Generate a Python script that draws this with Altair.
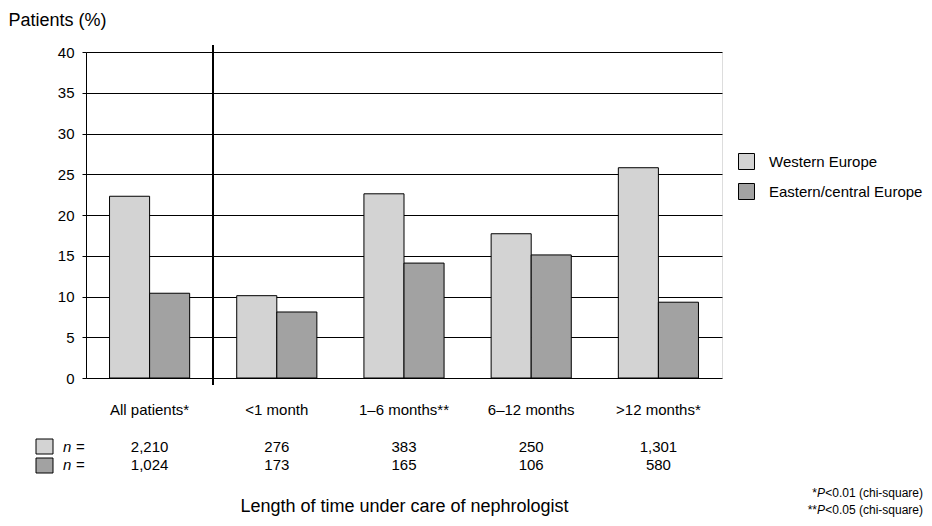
import altair as alt
import pandas as pd

categories = ["All patients*", "<1 month", "1–6 months**", "6–12 months", ">12 months*"]
series = ["Western Europe", "Eastern/central Europe"]
western = [22.3, 10.1, 22.6, 17.7, 25.8]
eastern = [10.4, 8.1, 14.1, 15.1, 9.3]
n_western = ["2,210", "276", "383", "250", "1,301"]
n_eastern = ["1,024", "173", "165", "106", "580"]
colors = ["#d3d3d3", "#a2a2a2"]
y_ticks = [0, 5, 10, 15, 20, 25, 30, 35, 40]

FONT = "Liberation Sans"

rows = []
for i, c in enumerate(categories):
    rows.append({"cat": c, "series": series[0], "value": western[i]})
    rows.append({"cat": c, "series": series[1], "value": eastern[i]})
df = pd.DataFrame(rows)
ndf = pd.DataFrame({"cat": categories, "nw": n_western, "ne": n_eastern})
one = pd.DataFrame({"a": [0]})

xdef = alt.X(
    "cat:N", sort=categories,
    scale=alt.Scale(domain=categories, paddingInner=0.37, paddingOuter=0.185),
    axis=alt.Axis(
        title="Length of time under care of nephrologist",
        labelAngle=0, ticks=False, domain=False, labelPadding=24,
        labelFont=FONT, labelFontSize=15, labelColor="black",
        titleFont=FONT, titleFontSize=18, titleFontWeight="normal", titleColor="black",
        titleY=128, titleBaseline="middle",
    ),
)

bars = alt.Chart(df).mark_bar(stroke="black", strokeWidth=1).encode(
    x=xdef,
    xOffset=alt.XOffset("series:N", sort=series, scale=alt.Scale(domain=series, paddingInner=0)),
    y=alt.Y(
        "value:Q", scale=alt.Scale(domain=[0, 40], nice=False),
        axis=alt.Axis(
            values=y_ticks, title="Patients (%)", titleAngle=0, titleX=-78, titleY=-32,
            titleAlign="left", titleBaseline="middle", titleFont=FONT, titleFontSize=18,
            titleFontWeight="normal", titleColor="black",
            grid=True, gridColor="black", gridOpacity=1, gridWidth=1,
            tickSize=4, tickColor="black", domain=True, domainColor="black",
            labelFont=FONT, labelFontSize=15, labelColor="black", labelPadding=8,
        ),
    ),
    color=alt.Color(
        "series:N", sort=series, scale=alt.Scale(domain=series, range=colors),
        legend=alt.Legend(
            title=None, orient="none", legendX=652, legendY=101, symbolType="square",
            symbolSize=256, symbolStrokeColor="black", symbolStrokeWidth=1,
            symbolOpacity=1, labelFont=FONT, labelFontSize=15, labelColor="black",
            labelOffset=14, rowPadding=9, padding=0,
        ),
    ),
)

sep = alt.Chart(one).mark_rule(color="black", strokeWidth=2).encode(
    x=alt.value(127), y=alt.value(-7), y2=alt.value(333)
)

n_row1 = alt.Chart(ndf).mark_text(font=FONT, fontSize=15, color="black").encode(
    x=xdef, y=alt.value(395), text="nw:N"
)
n_row2 = alt.Chart(ndf).mark_text(font=FONT, fontSize=15, color="black").encode(
    x=xdef, y=alt.value(413), text="ne:N"
)

sw1 = alt.Chart(one).mark_rect(fill=colors[0], stroke="black", strokeWidth=1).encode(
    x=alt.value(-50), x2=alt.value(-33), y=alt.value(387), y2=alt.value(402)
)
sw2 = alt.Chart(one).mark_rect(fill=colors[1], stroke="black", strokeWidth=1).encode(
    x=alt.value(-50), x2=alt.value(-33), y=alt.value(406), y2=alt.value(421)
)

def txt(s, x, y, align="left", style="normal", size=15):
    return alt.Chart(one).mark_text(
        text=s, font=FONT, fontSize=size, fontStyle=style, align=align,
        baseline="middle", color="black"
    ).encode(x=alt.value(x), y=alt.value(y))

labels = [
    txt("n", -23, 395, style="italic"), txt("=", -10, 395),
    txt("n", -23, 413, style="italic"), txt("=", -10, 413),
    txt("<0.01 (chi-square)", 837, 441, align="right", size=12),
    txt("P", 739, 441, align="right", style="italic", size=12),
    txt("*", 731, 441, align="right", size=12),
    txt("<0.05 (chi-square)", 837, 458, align="right", size=12),
    txt("P", 739, 458, align="right", style="italic", size=12),
    txt("**", 731, 458, align="right", size=12),
]

chart = alt.layer(bars, sep, n_row1, n_row2, sw1, sw2, *labels).properties(
    width=636, height=326,
    autosize=alt.AutoSizeParams(type="none"),
    padding={"left": 78, "top": 44, "right": 202, "bottom": 140},
).configure_view(stroke="black", strokeWidth=1).configure(background="white")

chart.save("out.html", embed_options={"renderer": "svg", "actions": False})
